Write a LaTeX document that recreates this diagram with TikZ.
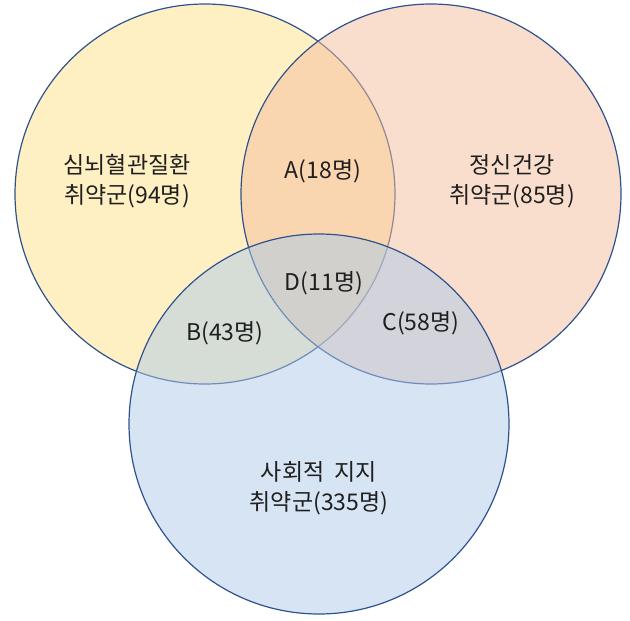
\documentclass[tikz,border=0pt]{standalone}
\usepackage{fontspec}
\usepackage{xcolor}
\usepackage{tikz}
\newfontfamily\krfont{Noto Sans CJK KR}
\definecolor{lineblue}{RGB}{47,82,143}
\definecolor{heartfill}{RGB}{255,225,137}
\definecolor{mindfill}{RGB}{243,189,155}
\definecolor{socialfill}{RGB}{173,201,233}

\begin{document}
\begin{tikzpicture}[x=1pt,y=-1pt,
    setcircle/.style={draw=lineblue, line width=1.2pt, fill opacity=0.5},
    grouptext/.style={font=\krfont\fontsize{23}{30}\selectfont, align=center, text=black!88}]
        \useasboundingbox (0,0) rectangle (630,621);

        % Circles
        \draw[setcircle, fill=heartfill] (205,194) circle (190pt);
        \draw[setcircle, fill=mindfill] (431,194) circle (190pt);
        \draw[setcircle, fill=socialfill] (319,424) circle (190pt);

        % Group labels
        \node[grouptext] (heart) at (127,181) {심뇌혈관질환\\취약군(94명)};
        \node[grouptext] (mind) at (512,181) {정신건강\\취약군(85명)};
        \node[grouptext] (social) at (319,488) {사회적 \ 지지\\취약군(335명)};

        % Overlaps
        \node[grouptext] (a) at (323,171) {A(18명)};
        \node[grouptext] (d) at (324,283) {D(11명)};
        \node[grouptext] (b) at (225,333) {B(43명)};
        \node[grouptext] (c) at (421,323) {C(58명)};
    \end{tikzpicture}
\end{document}
